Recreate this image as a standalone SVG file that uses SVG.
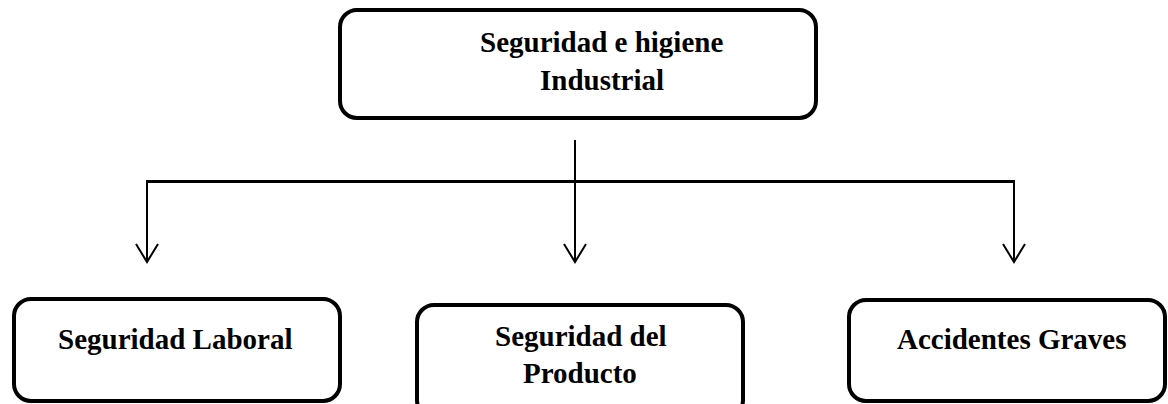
<svg xmlns="http://www.w3.org/2000/svg" width="1168" height="404" viewBox="0 0 1168 404">
<style>
.box{fill:#fff;stroke:#000;stroke-width:4}
.t{font-family:"Liberation Serif","Times New Roman",serif;font-weight:bold;font-size:29px;fill:#000}
.c{fill:none;stroke:#000;stroke-width:2}
</style>
<defs>
<marker id="arr" markerUnits="userSpaceOnUse" markerWidth="30" markerHeight="30" refX="20" refY="15" orient="auto" viewBox="0 0 30 30">
<path d="M2,4 L20,15 L2,26" fill="none" stroke="#000" stroke-width="2"/>
</marker>
</defs>
<rect width="1168" height="404" fill="#fff"/>
<g id="connectors">
<line class="c" x1="575" y1="140" x2="575" y2="262" marker-end="url(#arr)"/>
<line x1="146" y1="181.5" x2="1015" y2="181.5" stroke="#000" stroke-width="3"/>
<line class="c" x1="147" y1="181" x2="147" y2="262" marker-end="url(#arr)"/>
<line class="c" x1="1014" y1="181" x2="1014" y2="262" marker-end="url(#arr)"/>
</g>
<g id="root">
<rect class="box" x="340" y="10" width="476" height="108" rx="17"/>
<text class="t" x="480" y="52">Seguridad e higiene</text>
<text class="t" x="540" y="90">Industrial</text>
</g>
<g id="laboral">
<rect class="box" x="14" y="299" width="326" height="102" rx="17"/>
<text class="t" x="58" y="349">Seguridad Laboral</text>
</g>
<g id="producto">
<rect class="box" x="417" y="305" width="326" height="112" rx="17"/>
<text class="t" x="495" y="346">Seguridad del</text>
<text class="t" x="523" y="383">Producto</text>
</g>
<g id="accidentes">
<rect class="box" x="849" y="300" width="316" height="101" rx="17"/>
<text class="t" x="897" y="349">Accidentes Graves</text>
</g>
</svg>
